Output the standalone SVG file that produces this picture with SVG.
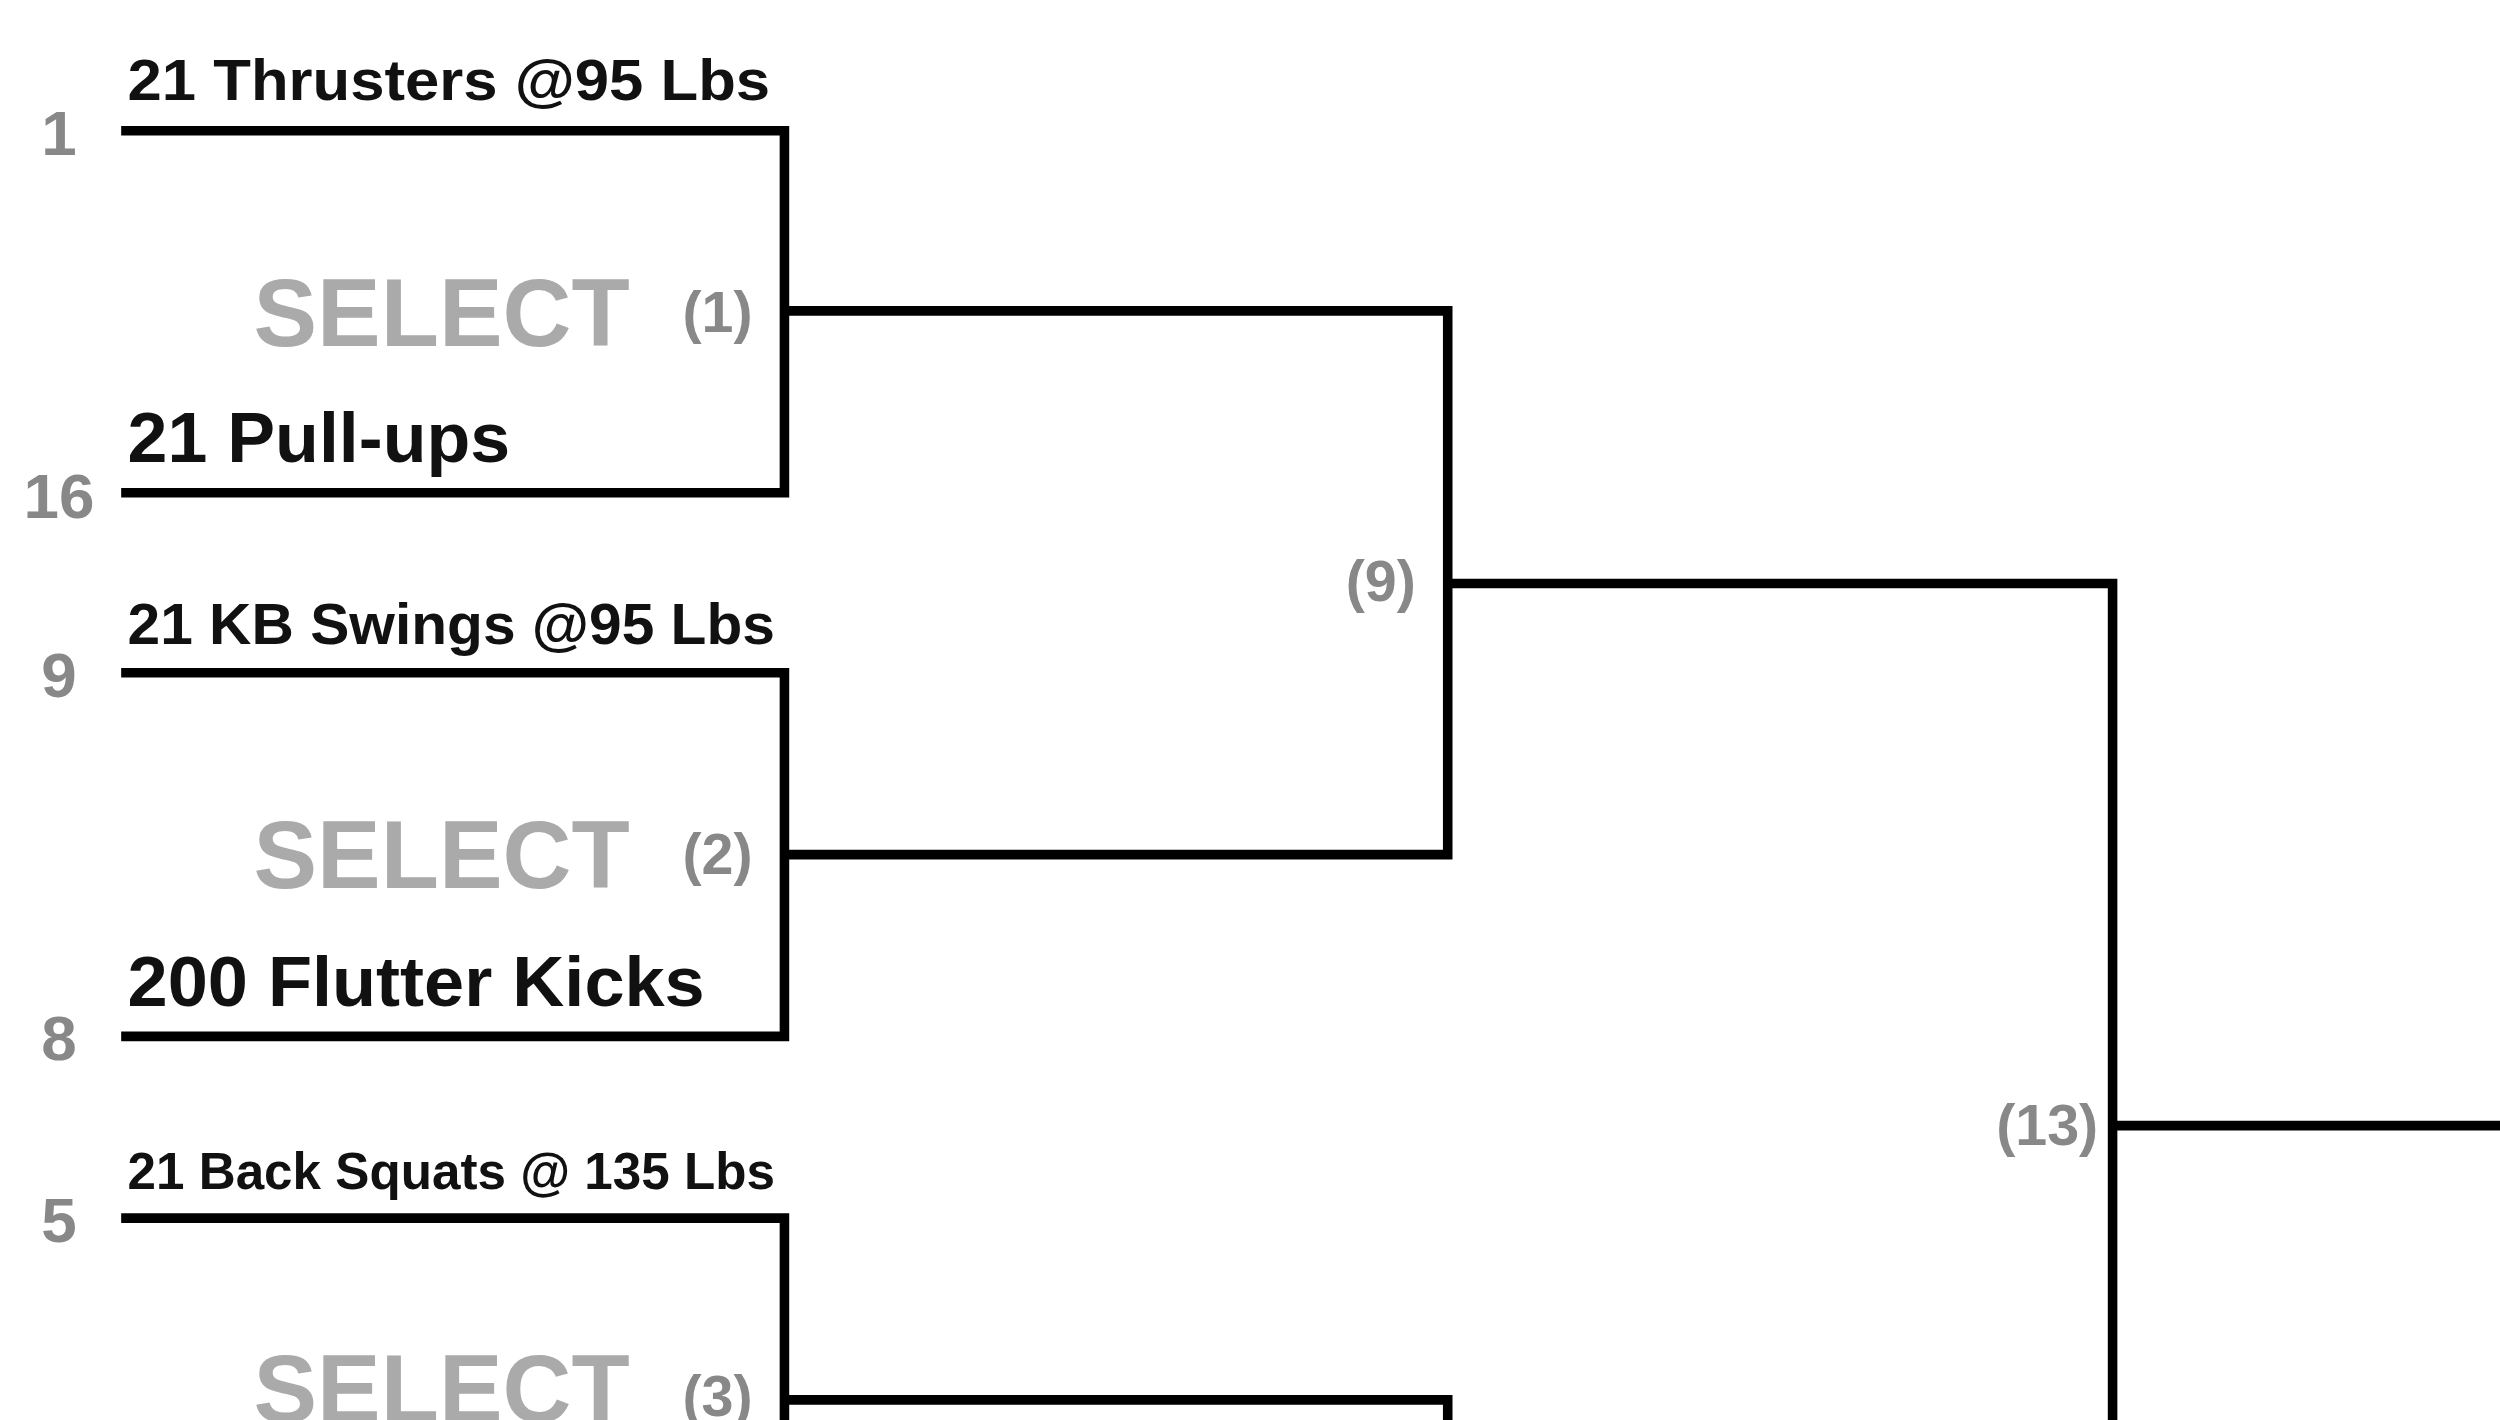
<svg xmlns="http://www.w3.org/2000/svg" width="2500" height="1420" viewBox="0 0 2500 1420">
<style>
.ln{fill:none;stroke:#000;stroke-width:6;stroke-linecap:square}
.t{font-family:"Liberation Sans",Arial,sans-serif;font-weight:bold;fill:#111}
.s{font-family:"Liberation Sans",Arial,sans-serif;font-weight:bold;fill:#888;font-size:40px;text-anchor:middle}
.sel{font-family:"Liberation Sans",Arial,sans-serif;font-weight:bold;fill:#aaa;font-size:61px}
.g{font-family:"Liberation Sans",Arial,sans-serif;font-weight:bold;fill:#888;font-size:36px;text-anchor:end}
</style>
<rect width="2500" height="1420" fill="#fff"/>
<g transform="scale(1.5944)">
<g id="connectors">
<path class="ln" d="M79 82H492V309H79"/>
<path class="ln" d="M79 422H492V650H79"/>
<path class="ln" d="M79 764H492V900"/>
<path class="ln" d="M495 195H908V536H495"/>
<path class="ln" d="M495 878H908V900"/>
<path class="ln" d="M911 366H1325V900"/>
<path class="ln" d="M1328 706H1570"/>
</g>
<g id="m1">
<text class="s" x="37" y="97">1</text>
<text class="t" x="80" y="63" font-size="36" textLength="403" lengthAdjust="spacingAndGlyphs">21 Thrusters @95 Lbs</text>
<text class="s" x="37" y="325">16</text>
<text class="t" x="80" y="290" font-size="44" textLength="240" lengthAdjust="spacingAndGlyphs">21 Pull-ups</text>
<text class="sel" x="159" y="217" textLength="236" lengthAdjust="spacingAndGlyphs">SELECT</text>
<text class="g" x="472" y="208">(1)</text>
</g>
<g id="m2">
<text class="s" x="37" y="437">9</text>
<text class="t" x="80" y="404" font-size="36" textLength="406" lengthAdjust="spacingAndGlyphs">21 KB Swings @95 Lbs</text>
<text class="s" x="37" y="665">8</text>
<text class="t" x="80" y="631" font-size="44" textLength="362" lengthAdjust="spacingAndGlyphs">200 Flutter Kicks</text>
<text class="sel" x="159" y="557" textLength="236" lengthAdjust="spacingAndGlyphs">SELECT</text>
<text class="g" x="472" y="548">(2)</text>
</g>
<g id="m3">
<text class="s" x="37" y="779">5</text>
<text class="t" x="80" y="746" font-size="32" textLength="406" lengthAdjust="spacingAndGlyphs">21 Back Squats @ 135 Lbs</text>
<text class="sel" x="159" y="892" textLength="236" lengthAdjust="spacingAndGlyphs">SELECT</text>
<text class="g" x="472" y="888">(3)</text>
</g>
<g id="m9"><text class="g" x="888" y="377">(9)</text></g>
<g id="m13"><text class="g" x="1316" y="718">(13)</text></g>
</g>
</svg>
